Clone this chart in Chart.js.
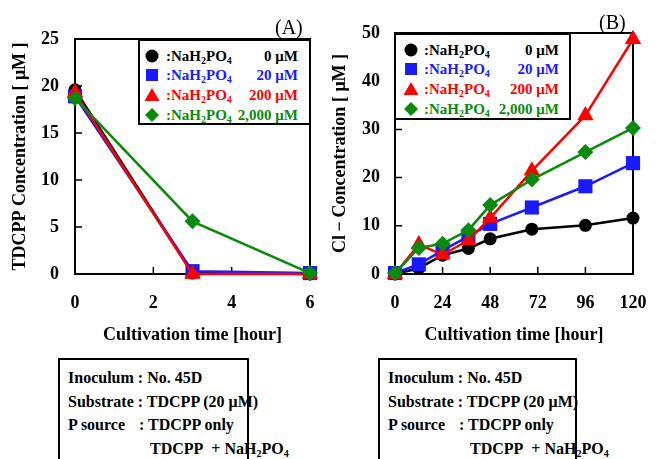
<!DOCTYPE html>
<html>
<head>
<meta charset="utf-8">
<script src="https://cdn.jsdelivr.net/npm/chart.js@4.4.1/dist/chart.umd.min.js"></script>
<style>
  body { margin: 0; background: #fff; }
  #wrap { position: relative; width: 656px; height: 459px; overflow: hidden; font-family: "Liberation Serif", "Times New Roman", serif; color: #000; }
  canvas { position: absolute; top: 0; }
  .tag { position: absolute; font-size: 20px; line-height: 20px; }
  .legend { position: absolute; border: 2px solid #000; background: #fff; box-sizing: border-box; font-weight: bold; font-size: 15px; }
  .row { position: absolute; left: 0; right: 0; height: 20px; line-height: 20px; white-space: nowrap; }
  .row canvas { position: absolute; top: 1px; }
  .row .name { position: absolute; }
  .row .val { position: absolute; }
  sub { font-size: 10px; vertical-align: -3px; line-height: 0; }
  .box { position: absolute; border: 2px solid #000; box-sizing: border-box; height: 140px; font-weight: bold; font-size: 16px; padding: 6px 0 0 8px; }
  .box div { height: 23.5px; line-height: 23.5px; white-space: nowrap; }
  .ps { display: inline-block; width: 71px; }
</style>
</head>
<body>
<div id="wrap">
  <canvas id="chartA" width="330" height="351" style="left:0;width:330px;height:351px"></canvas>
  <canvas id="chartB" width="326" height="351" style="left:330px;width:326px;height:351px"></canvas>
  <div class="tag" style="left:275px;top:17px">(A)</div>
  <div class="tag" style="left:599px;top:12px">(B)</div>
  <div class="legend" id="legA" style="left:138px;top:39px;width:173px;height:86px"></div>
  <div class="legend" id="legB" style="left:394px;top:33px;width:177px;height:87px"></div>
  <div class="box" style="left:58px;top:358px;width:191px"></div>
  <div class="box" style="left:378px;top:358px;width:199px"></div>
</div>
<script>
// panel A: TDCPP remaining
const timeA = [0, 3, 6];
const tdcpp0 = [19.6, 0.1, 0.0];
const tdcpp20 = [18.9, 0.3, 0.1];
const tdcpp200 = [19.3, 0.0, 0.0];
const tdcpp2000 = [18.7, 5.6, 0.1];

// panel B: chloride released
const timeB = [0, 12, 24, 37, 48, 69, 96, 120];
const cl0 = [0.0, 1.2, 3.9, 5.3, 7.3, 9.3, 10.1, 11.6];
const cl20 = [0.2, 2.0, 4.9, 7.8, 10.4, 13.8, 18.2, 23.0];
const cl200 = [0.0, 6.1, 4.0, 7.0, 11.6, 21.4, 32.9, 48.7];
const cl2000 = [0.2, 5.4, 6.3, 9.1, 14.3, 19.6, 25.3, 30.3];

const levels = ["0 \u03BCM", "20 \u03BCM", "200 \u03BCM", "2,000 \u03BCM"];
const colors = ["#000000", "#1a1aff", "#ff0000", "#0a8a0a"];
const markers = ["circle", "rect", "triangle", "rectRot"];
const radii = [6.5, 10, 9.5, 8];

const ticksA = { x: [0, 2, 4, 6], y: [0, 5, 10, 15, 20, 25] };
const ticksB = { x: [0, 24, 48, 72, 96, 120], y: [0, 10, 20, 30, 40, 50] };

const boxLines = [
  "Inoculum : No. 45D",
  "Substrate : TDCPP (20 \u03BCM)",
  "<span class='ps'>P source</span>: TDCPP only",
  "<span style='padding-left:82px'>TDCPP&nbsp;&nbsp;+ NaH<sub>2</sub>PO<sub>4</sub></span>"
];

const serif = "'Liberation Serif', 'Times New Roman', serif";

// frame on top/right and short inward ticks
const frame = {
  id: "frame",
  beforeDatasetsDraw(chart) {
    const { ctx, chartArea: a, scales } = chart;
    ctx.save();
    ctx.strokeStyle = "#000";
    ctx.lineWidth = 2;
    ctx.strokeRect(a.left, a.top, a.right - a.left, a.bottom - a.top);
    ctx.lineWidth = 1.5;
    ctx.beginPath();
    scales.x.ticks.forEach(t => {
      const px = scales.x.getPixelForValue(t.value);
      ctx.moveTo(px, a.bottom);
      ctx.lineTo(px, a.bottom - 7);
    });
    scales.y.ticks.forEach(t => {
      const py = scales.y.getPixelForValue(t.value);
      ctx.moveTo(a.left, py);
      ctx.lineTo(a.left + 7, py);
    });
    ctx.stroke();
    ctx.restore();
  }
};

function makeDatasets(xs, series) {
  return series.map((ys, i) => ({
    data: xs.map((x, j) => ({ x: x, y: ys[j] })),
    borderColor: colors[i],
    backgroundColor: colors[i],
    pointBackgroundColor: colors[i],
    pointBorderColor: colors[i],
    pointBorderWidth: 0,
    pointStyle: markers[i],
    pointRadius: radii[i],
    borderWidth: 2.5,
    tension: 0,
    clip: false,
    order: series.length - i
  }));
}

function makeChart(id, xs, series, ticks, yTitle, yWidth, pad, tPad) {
  const tickFont = { family: serif, size: 18, weight: "bold" };
  return new Chart(document.getElementById(id), {
    type: "line",
    data: { datasets: makeDatasets(xs, series) },
    options: {
      responsive: false,
      animation: false,
      events: [],
      layout: { padding: pad },
      plugins: { legend: { display: false }, tooltip: { enabled: false } },
      scales: {
        x: {
          type: "linear",
          min: ticks.x[0], max: ticks.x[ticks.x.length - 1],
          afterFit(s) { s.height = 77; },
          afterBuildTicks(s) { s.ticks = ticks.x.map(v => ({ value: v })); },
          ticks: { color: "#000", font: tickFont, padding: 0, maxRotation: 0 },
          grid: { display: true, drawOnChartArea: false, drawTicks: true, tickLength: 19, tickColor: "rgba(0,0,0,0)" },
          border: { display: true, color: "#000", width: 2 },
          title: { display: true, text: "Cultivation time [hour]", color: "#000", font: tickFont, padding: { top: 0, bottom: 5 } }
        },
        y: {
          min: ticks.y[0], max: ticks.y[ticks.y.length - 1],
          afterFit(s) { s.width = yWidth; },
          afterBuildTicks(s) { s.ticks = ticks.y.map(v => ({ value: v })); },
          ticks: { color: "#000", font: tickFont, padding: tPad },
          grid: { display: true, drawOnChartArea: false, drawTicks: false },
          border: { display: true, color: "#000", width: 2 },
          title: { display: true, text: yTitle, color: "#000", font: tickFont, padding: { top: yWidth > 70 ? 10 : 0, bottom: 0 } }
        }
      }
    },
    plugins: [frame]
  });
}

makeChart("chartA", timeA, [tdcpp0, tdcpp20, tdcpp200, tdcpp2000], ticksA,
  "TDCPP Concentration [ \u03BCM ]", 75, { top: 39, right: 20, left: 0, bottom: 0 }, 16);
makeChart("chartB", timeB, [cl0, cl20, cl200, cl2000], ticksB,
  "Cl\u2009\u2212\u2009Concentration [ \u03BCM ]", 65, { top: 33, right: 23, left: 0, bottom: 0 }, 15);

// legends
function drawMarker(cv, style, color) {
  const c = cv.getContext("2d");
  c.fillStyle = color;
  c.beginPath();
  if (style === "circle") c.arc(9, 9, 6.5, 0, Math.PI * 2);
  else if (style === "rect") c.rect(3, 3, 12, 12);
  else if (style === "triangle") { c.moveTo(9, 2); c.lineTo(16.5, 15); c.lineTo(1.5, 15); c.closePath(); }
  else { c.moveTo(9, 2); c.lineTo(16, 9); c.lineTo(9, 16); c.lineTo(2, 9); c.closePath(); }
  c.fill();
}

function buildLegend(id, markX, textX, valRight) {
  const el = document.getElementById(id);
  levels.forEach((lv, i) => {
    const row = document.createElement("div");
    row.className = "row";
    row.style.top = (4.5 + i * 19.7) + "px";
    row.style.color = colors[i];
    const cv = document.createElement("canvas");
    cv.width = 18; cv.height = 18;
    cv.style.left = (markX - 9) + "px";
    drawMarker(cv, markers[i], colors[i]);
    const nm = document.createElement("span");
    nm.className = "name";
    nm.style.left = textX + "px";
    nm.innerHTML = ":NaH<sub>2</sub>PO<sub>4</sub>";
    const v = document.createElement("span");
    v.className = "val";
    v.style.right = valRight + "px";
    v.textContent = lv;
    row.append(cv, nm, v);
    el.appendChild(row);
  });
}
buildLegend("legA", 12, 26, 11);
buildLegend("legB", 15, 28, 10);

document.querySelectorAll(".box").forEach(b => {
  b.innerHTML = boxLines.map(t => "<div>" + t + "</div>").join("");
});
</script>
</body>
</html>
